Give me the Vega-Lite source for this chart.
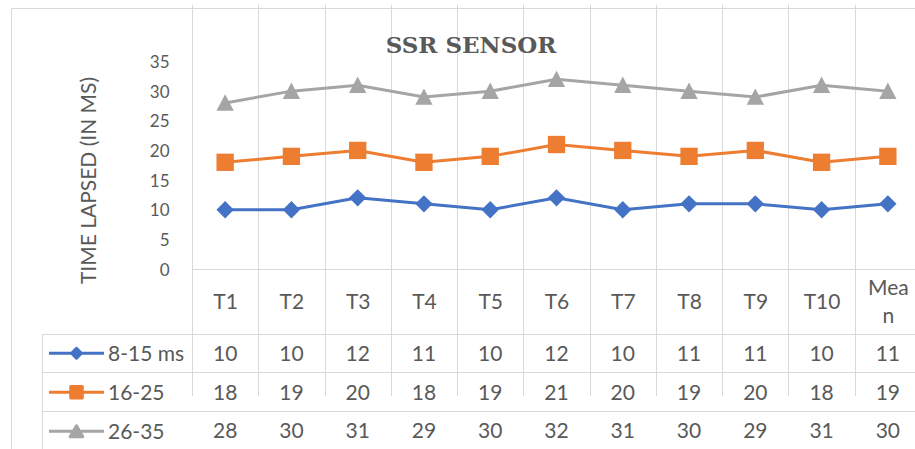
{
  "$schema": "https://vega.github.io/schema/vega-lite/v6.json",
  "width": 904,
  "height": 441,
  "autosize": {"type": "none"},
  "padding": {"left": 11, "top": 8, "right": 0, "bottom": 0},
  "background": "white",
  "config": {
    "font": "Lato",
    "view": {"stroke": "#D9D9D9", "strokeWidth": 1},
    "axis": {"labelFont": "Lato", "titleFont": "Lato", "labelColor": "#595959", "titleColor": "#595959"},
    "legend": {"labelFont": "Lato", "labelColor": "#595959"}
  },
  "title": {
    "text": "SSR SENSOR",
    "font": "DejaVu Serif",
    "fontSize": 23,
    "fontWeight": "bold",
    "color": "#595959",
    "anchor": "middle",
    "frame": "group",
    "baseline": "alphabetic",
    "offset": -68,
    "dx": 8
  },
  "data": {
    "values": [
      {"series": "8-15 ms", "trial": "T1", "value": 10},
      {"series": "8-15 ms", "trial": "T2", "value": 10},
      {"series": "8-15 ms", "trial": "T3", "value": 12},
      {"series": "8-15 ms", "trial": "T4", "value": 11},
      {"series": "8-15 ms", "trial": "T5", "value": 10},
      {"series": "8-15 ms", "trial": "T6", "value": 12},
      {"series": "8-15 ms", "trial": "T7", "value": 10},
      {"series": "8-15 ms", "trial": "T8", "value": 11},
      {"series": "8-15 ms", "trial": "T9", "value": 11},
      {"series": "8-15 ms", "trial": "T10", "value": 10},
      {"series": "8-15 ms", "trial": "Mean", "value": 11},
      {"series": "16-25", "trial": "T1", "value": 18},
      {"series": "16-25", "trial": "T2", "value": 19},
      {"series": "16-25", "trial": "T3", "value": 20},
      {"series": "16-25", "trial": "T4", "value": 18},
      {"series": "16-25", "trial": "T5", "value": 19},
      {"series": "16-25", "trial": "T6", "value": 21},
      {"series": "16-25", "trial": "T7", "value": 20},
      {"series": "16-25", "trial": "T8", "value": 19},
      {"series": "16-25", "trial": "T9", "value": 20},
      {"series": "16-25", "trial": "T10", "value": 18},
      {"series": "16-25", "trial": "Mean", "value": 19},
      {"series": "26-35", "trial": "T1", "value": 28},
      {"series": "26-35", "trial": "T2", "value": 30},
      {"series": "26-35", "trial": "T3", "value": 31},
      {"series": "26-35", "trial": "T4", "value": 29},
      {"series": "26-35", "trial": "T5", "value": 30},
      {"series": "26-35", "trial": "T6", "value": 32},
      {"series": "26-35", "trial": "T7", "value": 31},
      {"series": "26-35", "trial": "T8", "value": 30},
      {"series": "26-35", "trial": "T9", "value": 29},
      {"series": "26-35", "trial": "T10", "value": 31},
      {"series": "26-35", "trial": "Mean", "value": 30}
    ]
  },
  "layer": [
    {
      "layer": [
        {
          "mark": {"type": "line", "strokeWidth": 3},
          "encoding": {
            "x": {
              "field": "trial",
              "type": "ordinal",
              "sort": ["T1", "T2", "T3", "T4", "T5", "T6", "T7", "T8", "T9", "T10", "Mean"],
              "scale": {
                "type": "band",
                "domain": ["T1", "T2", "T3", "T4", "T5", "T6", "T7", "T8", "T9", "T10", "Mean"],
                "range": [181, 910],
                "paddingInner": 0,
                "paddingOuter": 0
              },
              "axis": {
                "orient": "bottom",
                "offset": -180,
                "title": null,
                "ticks": false,
                "tickSize": 0,
                "domain": true,
                "domainColor": "#D9D9D9",
                "grid": true,
                "gridColor": "#D9D9D9",
                "tickBand": "extent",
                "labelAngle": 0,
                "labelFontSize": 21,
                "labelPadding": {"condition": {"test": "datum.value == 'Mean'", "value": 19}, "value": 33.5},
                "labelBaseline": "middle",
                "labelLineHeight": 28,
                "labelExpr": "datum.label == 'Mean' ? ['Mea', 'n'] : datum.label"
              }
            },
            "y": {
              "field": "value",
              "type": "quantitative",
              "scale": {"domain": [-31, 35], "range": [444.8, 53.5], "nice": false, "zero": false},
              "axis": {
                "orient": "left",
                "offset": -181,
                "values": [0, 5, 10, 15, 20, 25, 30, 35],
                "title": "TIME LAPSED (IN MS)",
                "titleFontSize": 21,
                "titleFontWeight": "normal",
                "titleX": -103,
                "titleY": 172,
                "titleAngle": 270,
                "titleAlign": "center",
                "titleBaseline": "middle",
                "labelFontSize": 17,
                "labelPadding": 23,
                "labelOffset": 1,
                "domain": false,
                "ticks": false,
                "grid": false
              }
            },
            "color": {
              "field": "series",
              "type": "nominal",
              "scale": {
                "domain": ["8-15 ms", "16-25", "26-35"],
                "range": ["#4472C4", "#ED7D31", "#A5A5A5"]
              },
              "legend": {
                "orient": "none",
                "legendX": 31,
                "legendY": 326,
                "title": null,
                "padding": 0,
                "rowPadding": 0,
                "clipHeight": 38.4,
                "symbolSize": 3025,
                "symbolStrokeWidth": 3,
                "symbolOffset": 5.5,
                "labelOffset": 2.5,
                "labelFontSize": 21,
                "labelLimit": 200,
                "encoding": {
                  "symbols": {
                    "shape": {"value": {"signal": "datum.value === '8-15 ms' ? 'M-1,0H1M0,-0.18L0.18,0L0,0.18L-0.18,0Z' : datum.value === '16-25' ? 'M-1,0H1M-0.21,-0.21H0.21V0.21H-0.21Z' : 'M-1,0H1M0,-0.2L0.23,0.2H-0.23Z'"}},
                    "fill": {"value": {"signal": "scale('color', datum.value)"}},
                    "stroke": {"value": {"signal": "scale('color', datum.value)"}},
                    "strokeWidth": {"value": 3},
                    "strokeJoin": {"value": "round"},
                    "opacity": {"value": 1}
                  },
                  "labels": {
                    "dy": {"value": 2}
                  }
                }
              }
            }
          }
        },
        {
          "mark": {"type": "point", "filled": true, "opacity": 1, "size": 300},
          "encoding": {
            "x": {"field": "trial", "type": "ordinal", "sort": ["T1", "T2", "T3", "T4", "T5", "T6", "T7", "T8", "T9", "T10", "Mean"]},
            "y": {"field": "value", "type": "quantitative"},
            "color": {"field": "series", "type": "nominal", "legend": null},
            "shape": {
              "field": "series",
              "type": "nominal",
              "scale": {
                "domain": ["26-35", "16-25", "8-15 ms"],
                "range": ["M0,-1L1,0.9H-1Z", "square", "diamond"]
              },
              "legend": null
            }
          }
        }
      ]
    },
    {
      "mark": {"type": "text", "fontSize": 21, "color": "#595959", "font": "Lato", "dy": 2},
      "encoding": {
        "x": {"field": "trial", "type": "ordinal", "sort": ["T1", "T2", "T3", "T4", "T5", "T6", "T7", "T8", "T9", "T10", "Mean"]},
        "y": {
          "field": "series",
          "type": "nominal",
          "scale": {
            "type": "band",
            "domain": ["8-15 ms", "16-25", "26-35"],
            "range": [326, 441],
            "paddingInner": 0,
            "paddingOuter": 0
          },
          "axis": {
            "orient": "left",
            "offset": -31,
            "title": null,
            "labels": false,
            "domain": true,
            "domainColor": "#D9D9D9",
            "ticks": true,
            "tickSize": {"expr": "-151"},
            "tickColor": "#D9D9D9",
            "tickBand": "extent",
            "grid": true,
            "gridColor": "#D9D9D9"
          }
        },
        "text": {"field": "value", "type": "quantitative"}
      }
    }
  ],
  "resolve": {"scale": {"y": "independent"}, "axis": {"y": "independent"}}
}
